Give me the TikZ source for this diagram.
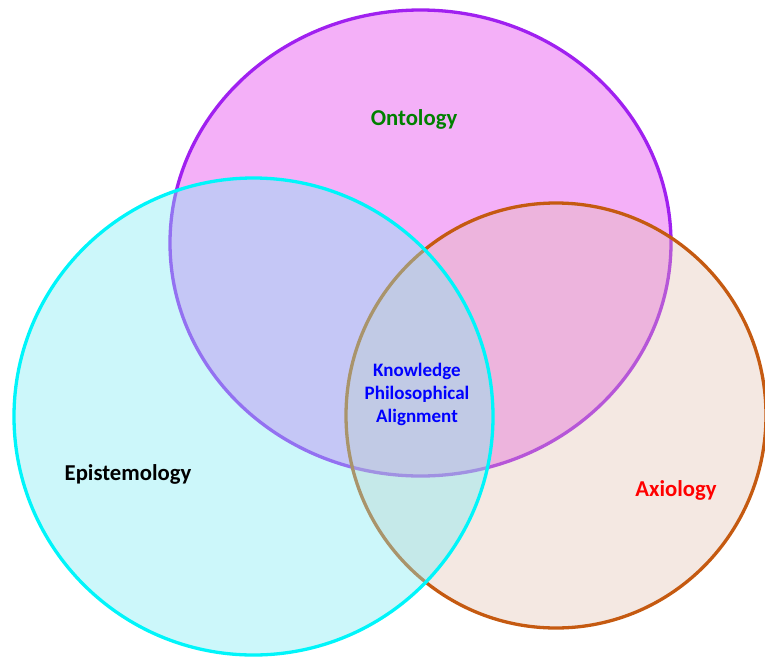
\documentclass[tikz,border=0pt]{standalone}
\usepackage{fontspec}
\setmainfont{Carlito}
\definecolor{ontofill}{RGB}{244,176,248}
\definecolor{ontoline}{RGB}{160,32,240}
\definecolor{epifill}{RGB}{128,235,243}
\definecolor{epiline}{RGB}{0,245,250}
\definecolor{axiofill}{RGB}{224,189,172}
\definecolor{axioline}{RGB}{197,90,17}
\definecolor{ontotext}{RGB}{0,128,0}
\begin{document}
\begin{tikzpicture}[x=1pt,y=-1pt,
  ring/.style={line width=3.3pt},
  label/.style={font=\bfseries\fontsize{22.7}{27}\selectfont, inner sep=0pt},
  core/.style={font=\bfseries\fontsize{19}{23}\selectfont, align=center, inner sep=0pt, text=blue}]
\useasboundingbox (0,0) rectangle (765,659);
% Ontology set (bottom layer)
\draw[ring, draw=ontoline, fill=ontofill] (420.5,243) ellipse [x radius=250.5, y radius=233];
% Axiology set
\draw[ring, draw=axioline, fill=axiofill, fill opacity=0.35] (556,415.5) ellipse [x radius=210, y radius=212.5];
% Epistemology set (top layer)
\draw[ring, draw=epiline, fill=epifill, fill opacity=0.4] (253.5,416.5) ellipse [x radius=239.5, y radius=238.5];
% Labels
\node[label, text=ontotext] (onto) at (414,119) {Ontology};
\node[label, text=black] (epi) at (128,474) {Epistemology};
\node[label, text=red] (axio) at (676,490) {Axiology};
\node[core] (kpa) at (417,394) {Knowledge\\Philosophical\\Alignment};
\end{tikzpicture}
\end{document}
